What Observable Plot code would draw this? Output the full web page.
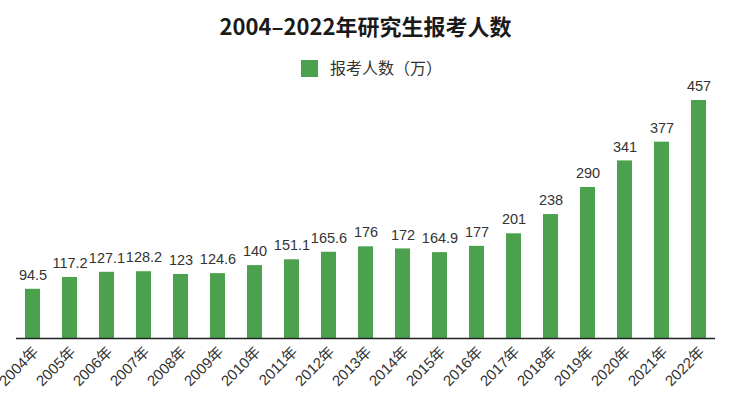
<!DOCTYPE html>
<html><head><meta charset="utf-8">
<script src="https://cdn.jsdelivr.net/npm/d3@7"></script>
<script src="https://cdn.jsdelivr.net/npm/@observablehq/plot@0.6"></script>
<style>
body{margin:0;background:#fff;width:731px;height:395px;overflow:hidden;position:relative;font-family:"Noto Sans CJK SC","Noto Sans",sans-serif;}
#title{position:absolute;left:0;top:10px;width:731px;text-align:center;font-weight:bold;font-size:22px;line-height:30px;color:#1a1a1a;}
#legend{position:absolute;left:6px;top:55px;width:731px;text-align:center;font-size:16px;line-height:24px;color:#333;}
#legend .sw{display:inline-block;width:17px;height:17px;background:#4ca14e;vertical-align:-3px;margin-right:12px;}
#chart{position:absolute;left:0;top:78px;}
</style></head><body>
<div id="title">2004–2022年研究生报考人数</div>
<div id="legend"><span class="sw"></span>报考人数（万）</div>
<div id="chart"></div>
<script>
const years = ["2004年","2005年","2006年","2007年","2008年","2009年","2010年","2011年","2012年","2013年","2014年","2015年","2016年","2017年","2018年","2019年","2020年","2021年","2022年"];
const applicants = [94.5,117.2,127.1,128.2,123,124.6,140,151.1,165.6,176,172,164.9,177,201,238,290,341,377,457];
const seriesName = "报考人数（万）";
const data = years.map((y,i)=>({year:y, value:applicants[i]}));
const chart = Plot.plot({
  width:731, height:317,
  marginLeft:16, marginRight:16, marginTop:22, marginBottom:57,
  style:{fontFamily:"'Liberation Sans', Arial, sans-serif", color:"#333", background:"#fff", overflow:"visible"},
  x:{domain:years, paddingInner:0.6, paddingOuter:0.24, label:null, axis:null},
  y:{domain:[0,457], axis:null},
  marks:[
    Plot.barY(data,{x:"year", y:"value", fill:"#4ca14e"}),
    Plot.text(data,{x:"year", y:"value", text:d=>String(d.value), dy:-14, fontSize:14.5, fill:"#333"}),
    Plot.ruleY([0],{stroke:"#222", strokeWidth:1.6}),
    Plot.axisX({label:null, tickRotate:-45, tickSize:0, tickPadding:11, dx:3, fontSize:15, fill:"#333", fontFamily:"'Liberation Sans','Noto Sans CJK SC', sans-serif"})
  ]
});
document.getElementById("chart").appendChild(chart);
</script>
</body></html>
